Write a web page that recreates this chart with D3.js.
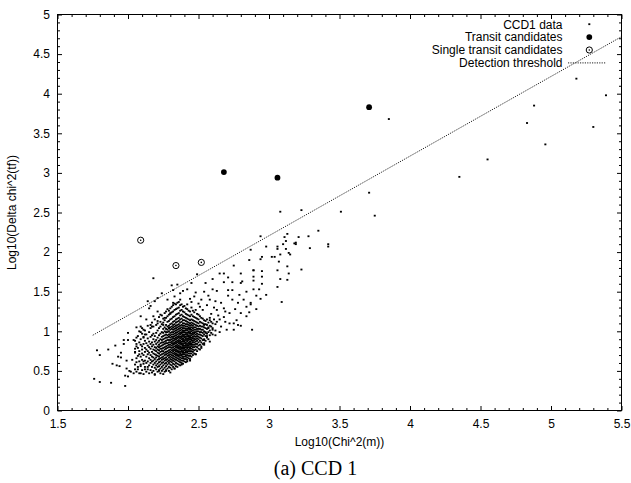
<!DOCTYPE html>
<html>
<head>
<meta charset="utf-8">
<script src="https://cdn.jsdelivr.net/npm/d3@7"></script>
<style>
  body { margin: 0; background: #fff; }
  svg { display: block; }
  .sans { font-family: "Liberation Sans", Arial, Helvetica, sans-serif; }
  .serif { font-family: "Liberation Serif", "Times New Roman", Times, serif; }
</style>
</head>
<body>
<script>
// Axis ticks and labels
const xTicks = [1.5, 2, 2.5, 3, 3.5, 4, 4.5, 5, 5.5];
const yTicks = [0, 0.5, 1, 1.5, 2, 2.5, 3, 3.5, 4, 4.5, 5];
const xTitle = "Log10(Chi^2(m))";
const yTitle = "Log10(Delta chi^2(tf))";
const caption = "(a) CCD 1";
const legendLabels = ["CCD1 data", "Transit candidates", "Single transit candidates", "Detection threshold"];

// CCD1 data, main cluster: each entry is [Log10(Chi^2(m)), list of Log10(Delta chi^2(tf))]
const ccd1Columns = [
  [2.05,[.58,.74,.88]],
  [2.06,[.49,.66,.81]],
  [2.07,[.55,.69,.79,.94]],
  [2.08,[.47,.62,.75,.86]],
  [2.09,[.58,.68,.90,.99]],
  [2.10,[.51,.64,.72,.81,.97]],
  [2.11,[.46,.59,.70,.84,.93]],
  [2.12,[.55,.63,.74,.79,.88,1.01]],
  [2.13,[.49,.60,.68,.77,.85,.96]],
  [2.14,[.52,.62,.71,.75,.82,.91,1.07]],
  [2.15,[.47,.57,.66,.73,.80,.87,.99]],
  [2.16,[.51,.60,.64,.70,.78,.84,.93,1.04]],
  [2.17,[.48,.55,.62,.68,.74,.81,.86,.95,1.11]],
  [2.18,[.50,.58,.63,.67,.72,.77,.83,.90,.97,1.06]],
  [2.19,[.46,.54,.60,.65,.71,.76,.80,.87,.94,1.15]],
  [2.20,[.52,.57,.62,.67,.70,.75,.79,.84,.89,.98,1.08]],
  [2.21,[.49,.55,.59,.64,.69,.73,.77,.81,.86,.92,1.01,1.13]],
  [2.22,[.51,.56,.61,.65,.68,.72,.76,.80,.83,.88,.95,1.04,1.18]],
  [2.23,[.47,.53,.58,.62,.66,.70,.74,.78,.81,.85,.90,.97,1.06,1.12]],
  [2.24,[.50,.55,.60,.64,.67,.71,.75,.78,.82,.86,.89,.93,.99,1.09,1.20]],
  [2.25,[.52,.57,.61,.65,.68,.72,.75,.79,.83,.86,.90,.94,.98,1.03,1.11,1.16]],
  [2.26,[.49,.54,.59,.63,.66,.70,.73,.77,.80,.84,.87,.91,.95,1.00,1.05,1.14,1.23]],
  [2.27,[.51,.56,.60,.64,.67,.71,.74,.78,.81,.85,.88,.92,.96,.99,1.03,1.08,1.17,1.25]],
  [2.28,[.53,.58,.62,.65,.69,.72,.75,.79,.82,.85,.89,.92,.95,.99,1.02,1.06,1.12,1.19,1.28]],
  [2.29,[.50,.55,.60,.63,.67,.70,.73,.76,.80,.83,.86,.89,.93,.96,1.00,1.04,1.07,1.13,1.21,1.26]],
  [2.30,[.54,.58,.62,.65,.68,.71,.74,.77,.80,.83,.86,.89,.92,.95,.98,1.02,1.05,1.09,1.15,1.22,1.29]],
  [2.31,[.52,.57,.61,.64,.67,.70,.73,.76,.79,.82,.85,.87,.90,.93,.96,.99,1.03,1.06,1.10,1.16,1.24,1.31]],
  [2.32,[.55,.59,.63,.66,.69,.72,.75,.77,.80,.83,.85,.88,.91,.93,.96,.99,1.02,1.05,1.08,1.12,1.18,1.25,1.33]],
  [2.33,[.53,.58,.62,.65,.68,.71,.73,.76,.78,.81,.84,.86,.89,.91,.94,.97,1.00,1.03,1.06,1.09,1.13,1.19,1.27,1.35]],
  [2.34,[.56,.60,.64,.67,.70,.72,.75,.77,.80,.82,.85,.87,.90,.92,.95,.98,1.01,1.04,1.07,1.11,1.15,1.21,1.28,1.34]],
  [2.35,[.55,.59,.63,.66,.69,.71,.74,.76,.79,.81,.83,.86,.88,.91,.93,.96,.99,1.02,1.05,1.08,1.12,1.16,1.22,1.29,1.36]],
  [2.36,[.58,.62,.65,.68,.70,.73,.75,.78,.80,.82,.85,.87,.89,.92,.94,.97,1.00,1.03,1.06,1.09,1.13,1.17,1.23,1.30,1.37]],
  [2.37,[.57,.61,.64,.67,.70,.72,.74,.77,.79,.81,.84,.86,.88,.91,.93,.96,.98,1.01,1.04,1.07,1.11,1.15,1.20,1.26,1.33]],
  [2.38,[.60,.63,.66,.69,.71,.74,.76,.78,.80,.83,.85,.87,.90,.92,.94,.97,.99,1.02,1.05,1.08,1.12,1.16,1.21,1.27,1.34]],
  [2.39,[.59,.63,.66,.68,.71,.73,.75,.78,.80,.82,.84,.87,.89,.91,.94,.96,.99,1.01,1.04,1.07,1.10,1.14,1.19,1.25,1.31]],
  [2.40,[.62,.65,.68,.71,.73,.76,.78,.80,.82,.85,.87,.89,.92,.94,.96,.99,1.01,1.04,1.07,1.10,1.14,1.18,1.24,1.32]],
  [2.41,[.61,.65,.68,.70,.73,.75,.77,.80,.82,.84,.86,.89,.91,.93,.96,.98,1.01,1.03,1.06,1.09,1.13,1.17,1.22,1.29]],
  [2.42,[.64,.67,.70,.73,.75,.78,.80,.82,.84,.87,.89,.91,.94,.96,.98,1.01,1.03,1.06,1.09,1.12,1.16,1.21,1.28]],
  [2.43,[.66,.69,.72,.75,.77,.80,.82,.84,.86,.89,.91,.93,.95,.98,1.00,1.03,1.05,1.08,1.11,1.15,1.20,1.26]],
  [2.44,[.65,.69,.72,.75,.78,.80,.83,.85,.87,.90,.92,.94,.97,.99,1.02,1.04,1.07,1.10,1.14,1.19,1.25]],
  [2.45,[.68,.72,.75,.78,.81,.83,.85,.88,.90,.92,.95,.97,1.00,1.02,1.05,1.08,1.11,1.15,1.21,1.30]],
  [2.46,[.70,.74,.77,.80,.83,.86,.88,.91,.93,.96,.98,1.01,1.04,1.07,1.10,1.14,1.19,1.26]],
  [2.47,[.72,.76,.80,.83,.86,.89,.91,.94,.97,.99,1.02,1.05,1.09,1.13,1.18,1.24]],
  [2.48,[.71,.77,.81,.84,.87,.90,.93,.96,.99,1.02,1.05,1.08,1.12,1.17,1.27]],
  [2.49,[.75,.80,.84,.88,.91,.94,.97,1.00,1.03,1.07,1.11,1.16,1.22]],
  [2.50,[.78,.82,.86,.90,.93,.96,1.00,1.03,1.06,1.10,1.15,1.21]],
  [2.51,[.77,.83,.88,.92,.96,.99,1.03,1.07,1.12,1.19]],
  [2.52,[.81,.86,.91,.95,.99,1.02,1.06,1.11,1.17]],
  [2.53,[.84,.89,.94,.98,1.02,1.06,1.10,1.16]],
  [2.54,[.83,.90,.96,1.00,1.05,1.09,1.14]],
  [2.55,[.88,.94,.99,1.04,1.09,1.13]],
  [2.56,[.92,.97,1.03,1.08,1.15]],
  [2.57,[.90,.99,1.05,1.11]],
  [2.58,[.95,1.01,1.07,1.14]],
  [2.59,[.98,1.06,1.12]],
  [2.60,[.96,1.04,1.10]],
  [2.62,[1.01,1.09]]
];

// CCD1 data: scattered points around and away from the cluster, [x, y]
const ccd1Spread = [
  [3.85,3.68],[5.18,4.19],[5.39,3.98],[4.88,3.85],[4.83,3.63],[5.30,3.58],[4.96,3.36],
  [4.55,3.17],[4.35,2.95],[3.71,2.75],[3.51,2.51],[3.75,2.46],[3.35,2.27],
  [3.08,2.51],[3.23,2.53],[3.13,2.23],[2.94,2.20],[3.11,2.19],[3.21,2.19],[3.28,2.20],
  [3.12,2.14],[3.19,2.12],[3.19,2.10],[3.42,2.10],[3.42,2.07],[3.10,2.10],[2.98,2.07],
  [3.06,2.07],[3.12,2.04],[3.06,2.04],[3.29,2.05],[2.87,2.03],[3.08,1.97],[3.15,1.97],
  [2.95,1.94],[2.94,1.91],[3.02,1.94],[3.04,1.94],[3.07,1.88],[3.13,1.82],[3.23,1.78],
  [2.89,1.77],[2.95,1.76],[3.06,1.77],[3.14,1.73],[2.95,1.69],[3.08,1.66],[2.89,1.64],
  [2.95,1.60],[3.06,1.56],[2.89,1.53],[2.93,1.53],[2.98,1.46],[2.91,1.45],[2.94,1.41],
  [3.09,1.37],[2.87,1.36],[3.14,1.99],[3.18,2.11],[3.13,1.65],[2.89,1.69],
  [2.75,1.83],[2.86,1.90],[2.49,1.72],[2.68,1.73],[2.71,1.68],[2.80,1.73],[2.89,1.77],
  [2.74,1.62],[2.80,1.61],[2.81,1.63],[2.68,1.62],[2.55,1.61],[2.31,1.58],[2.60,1.53],
  [2.63,1.51],[2.71,1.52],[2.74,1.52],[2.42,1.53],[2.39,1.51],[2.48,1.49],[2.84,1.50],
  [2.33,1.44],[2.37,1.40],[2.44,1.41],[2.52,1.40],[2.58,1.40],[2.62,1.38],[2.74,1.40],
  [2.78,1.36],[2.87,1.34],[2.32,1.36],[2.42,1.34],[2.51,1.31],[2.63,1.27],[2.68,1.29],
  [2.72,1.23],[2.80,1.23],[2.84,1.19],[2.58,1.17],[2.65,1.15],[2.69,1.12],[2.75,1.10],
  [2.88,1.02],
  [2.18,1.67],[1.76,.40],[1.80,.36],[1.88,.35],[1.98,.31],[1.78,.76],[1.80,.70],[1.86,.77],
  [1.89,.59],[1.92,.57],[1.93,.68],[1.91,.82],[1.97,.89],[1.97,.84],[2.00,.98],[1.98,.44],
  [2.00,.43],[2.04,.47],[2.01,.50],[2.05,.52],[2.09,.47],[2.14,.55],[2.19,.45],[2.22,.50],
  [2.27,.50],[1.95,.73],[2.03,.64],[2.06,.61],[2.14,1.38],[2.21,1.42],[2.24,1.48],[2.16,1.32],
  [2.09,1.19],[2.13,1.15],[2.06,1.05],[2.10,1.04],[2.04,.89],[2.35,1.59],[2.32,1.52],
  [2.37,1.48],[2.45,1.61],[2.60,1.66],[2.65,1.73],[2.84,1.31],[2.75,1.02],[2.78,1.08],
  [2.72,1.10],[2.65,.99],[2.61,1.15],[2.56,.94],[2.54,.89],
  [2.54,1.08],[2.57,1.04],[2.55,.98],[2.80,1.07],[2.63,1.12],[2.58,.87],[2.54,.85],
  [2.52,.79],[2.42,.62],[2.48,.71],
  [2.00,.89],[2.06,.92],[2.08,1.00],[2.11,1.02],[1.95,.67],[1.94,.56],[1.99,.63],[1.99,.53],
  [2.02,.49],[2.07,.52],[2.09,.56],[2.11,.62],[2.12,.52],[2.08,.71],[2.10,.77],[2.09,.83],
  [2.06,.84],[2.05,.78],[2.05,.73],[2.11,.92],[2.09,1.06],[2.12,.96],[2.17,1.06],
  [2.19,1.38],[2.28,1.40],[2.15,1.29],[2.21,1.25],[2.18,1.19],[2.23,1.21],[2.26,1.17],
  [2.30,1.23],[2.16,1.08],[2.21,1.10],[2.25,1.08],[2.29,1.04],
  [2.25,.46],[2.30,.48],[2.33,.53],[2.38,.58],[2.44,.63],
  [2.50,1.35],[2.53,1.27],[2.56,1.33],[2.59,1.22],[2.61,1.30],[2.64,1.20],[2.66,1.36],
  [2.69,1.25],[2.71,1.45],[2.57,1.45],[2.54,1.50],[2.47,1.44],[2.45,1.37],[2.66,1.06],
  [2.70,1.02],[2.62,.95],[2.60,1.02],[2.68,1.18],[2.76,1.28],[2.79,1.46],[2.82,1.40],
  [2.86,1.24],[2.91,1.28],[2.77,1.14]
];

// Transit candidates and single transit candidates
const transitX = [2.68, 3.06, 3.71];
const transitY = [3.01, 2.94, 3.83];
const singleX = [2.09, 2.34, 2.52];
const singleY = [2.15, 1.83, 1.87];

// Detection threshold (straight line)
const threshX = [1.75, 5.5];
const threshY = [0.95, 4.72];

const W = 631, H = 483;
const svg = d3.select("body").append("svg").attr("width", W).attr("height", H);
svg.append("rect").attr("width", W).attr("height", H).attr("fill", "#fff");

const x = d3.scaleLinear().domain([1.5, 5.5]).range([57.5, 621.5]);
const y = d3.scaleLinear().domain([0, 5]).range([410.5, 14.5]);

const plot = svg.append("g");
plot.append("clipPath").attr("id", "clip").append("rect")
  .attr("x", 57.5).attr("y", 14.5).attr("width", 564).attr("height", 396);

// data dots
const clusterDots = ccd1Columns.flatMap(([cx, ys]) => ys.map(v => [cx, v]));
const allDots = clusterDots.concat(ccd1Spread);
plot.append("g").attr("clip-path", "url(#clip)")
  .selectAll("rect").data(allDots).join("rect")
  .attr("x", d => x(d[0]) - 1).attr("y", d => y(d[1]) - 0.9)
  .attr("width", 2).attr("height", 1.8).attr("fill", "#000");

// threshold line
const thresh = threshX.map((v, i) => [v, threshY[i]]);
plot.append("path").attr("clip-path", "url(#clip)")
  .attr("d", d3.line().x(d => x(d[0])).y(d => y(d[1]))(thresh))
  .attr("fill", "none").attr("stroke", "#222").attr("stroke-width", 1)
  .attr("stroke-dasharray", "1.2,1.2");

// transit candidates
plot.append("g").selectAll("circle").data(transitX).join("circle")
  .attr("cx", d => x(d)).attr("cy", (d, i) => y(transitY[i])).attr("r", 2.9).attr("fill", "#000");

// single transit candidates
const singles = plot.append("g").selectAll("g").data(singleX).join("g")
  .attr("transform", (d, i) => `translate(${x(d)},${y(singleY[i])})`);
singles.append("circle").attr("r", 3.1).attr("fill", "none").attr("stroke", "#000").attr("stroke-width", 1);
singles.append("circle").attr("r", 0.8).attr("fill", "#000");

// frame
svg.append("rect").attr("x", 57.5).attr("y", 14.5).attr("width", 564).attr("height", 396)
  .attr("fill", "none").attr("stroke", "#000").attr("stroke-width", 1);

// axes (ticks point inward, mirrored on all sides)
const xMinor = d3.range(15, 56).map(d => d / 10).filter(v => !xTicks.some(t => Math.abs(t - v) < 1e-9));
const yMinor = d3.range(0, 51).map(d => d / 10).filter(v => !yTicks.some(t => Math.abs(t - v) < 1e-9));
const fmt = d => String(d);

function axis(gen, vals, size, labels, tx, ty, pad) {
  const g = svg.append("g").attr("transform", `translate(${tx},${ty})`)
    .call(gen.tickValues(vals).tickSize(-size).tickPadding(pad || 3).tickFormat(labels ? fmt : ""));
  g.select(".domain").remove();
  g.selectAll("line").attr("stroke", "#000").attr("stroke-width", 1);
  g.attr("font-family", null).attr("font-size", 12).attr("class", "sans");
  g.selectAll("text").attr("fill", "#000");
  return g;
}
axis(d3.axisBottom(x), xTicks, 4.5, true, 0, 410.5, 8.5);
axis(d3.axisBottom(x), xMinor, 2.5, false, 0, 410.5);
axis(d3.axisTop(x), xTicks, 4.5, false, 0, 14.5);
axis(d3.axisTop(x), xMinor, 2.5, false, 0, 14.5);
axis(d3.axisLeft(y), yTicks, 4.5, true, 57.5, 0, 7.5);
axis(d3.axisLeft(y), yMinor, 2.5, false, 57.5, 0);
axis(d3.axisRight(y), yTicks, 4.5, false, 621.5, 0);
axis(d3.axisRight(y), yMinor, 2.5, false, 621.5, 0);

// axis titles
svg.append("text").attr("class", "sans").attr("x", 339.5).attr("y", 446).attr("text-anchor", "middle")
  .attr("font-size", 12).attr("fill", "#000").text(xTitle);
svg.append("text").attr("class", "sans").attr("transform", "translate(16,212.5) rotate(-90)").attr("text-anchor", "middle")
  .attr("font-size", 12).attr("fill", "#000").text(yTitle);

// caption
svg.append("text").attr("class", "serif").attr("x", 315.5).attr("y", 475).attr("text-anchor", "middle")
  .attr("font-size", 20).attr("fill", "#000").text(caption);

// legend
const legend = svg.append("g");
const rowY = i => 28.5 + i * 12.9;
legend.selectAll("text").data(legendLabels).join("text")
  .attr("class", "sans")
  .attr("x", 562.5).attr("y", (d, i) => rowY(i)).attr("text-anchor", "end")
  .attr("font-size", 12).attr("fill", "#000").text(d => d);
const symX = 589.3;
legend.append("rect").attr("x", symX - 1).attr("y", rowY(0) - 4.3 - 0.9).attr("width", 2).attr("height", 1.8).attr("fill", "#000");
legend.append("circle").attr("cx", symX).attr("cy", rowY(1) - 4.3).attr("r", 2.9).attr("fill", "#000");
legend.append("circle").attr("cx", symX).attr("cy", rowY(2) - 4.3).attr("r", 3.1).attr("fill", "none").attr("stroke", "#000");
legend.append("circle").attr("cx", symX).attr("cy", rowY(2) - 4.3).attr("r", 0.8).attr("fill", "#000");
legend.append("line").attr("x1", 568).attr("x2", 606).attr("y1", rowY(3) - 4.3).attr("y2", rowY(3) - 4.3)
  .attr("stroke", "#222").attr("stroke-width", 1).attr("stroke-dasharray", "1.2,1.2");
</script>
</body>
</html>
